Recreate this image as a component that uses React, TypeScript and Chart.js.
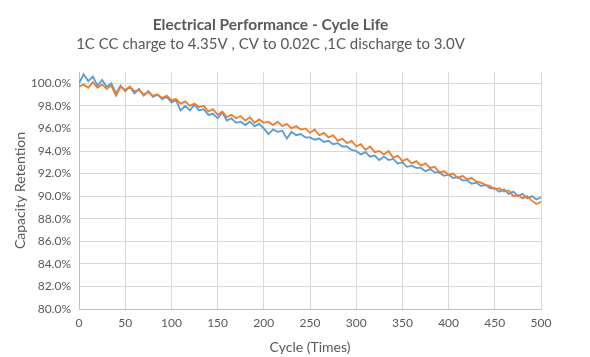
import React, { useEffect, useRef } from "react";
import { Chart, registerables } from "chart.js";

Chart.register(...registerables);

const cycles: number[] = [
  0, 5, 10, 15, 20, 25, 30, 35, 40, 45, 50, 55, 60, 65, 70, 75, 80, 85, 90, 95,
  100, 105, 110, 115, 120, 125, 130, 135, 140, 145, 150, 155, 160, 165, 170, 175, 180, 185, 190, 195,
  200, 205, 210, 215, 220, 225, 230, 235, 240, 245, 250, 255, 260, 265, 270, 275, 280, 285, 290, 295,
  300, 305, 310, 315, 320, 325, 330, 335, 340, 345, 350, 355, 360, 365, 370, 375, 380, 385, 390, 395,
  400, 405, 410, 415, 420, 425, 430, 435, 440, 445, 450, 455, 460, 465, 470, 475, 480, 485, 490, 495, 500,
];

const seriesBlue: number[] = [
  100.0, 100.8, 100.2, 100.6, 99.8, 100.3, 99.7, 100.0, 99.1, 99.8, 99.3, 99.7, 99.1, 99.5, 98.9, 99.3, 98.8, 99.0, 98.6, 98.8,
  98.3, 98.5, 97.6, 98.0, 97.6, 98.1, 97.6, 97.7, 97.2, 97.3, 96.9, 97.4, 96.7, 96.9, 96.5, 96.6, 96.3, 96.6, 96.2, 96.4,
  96.0, 95.5, 95.9, 95.7, 95.8, 95.1, 95.7, 95.4, 95.5, 95.2, 95.2, 95.0, 95.1, 94.8, 94.9, 94.6, 94.7, 94.4, 94.4, 94.1,
  94.0, 93.7, 93.9, 93.5, 93.6, 93.2, 93.5, 93.2, 93.3, 92.9, 93.0, 92.6, 92.7, 92.5, 92.5, 92.2, 92.4, 92.1, 92.1, 91.8,
  91.9, 91.6, 91.7, 91.4, 91.4, 91.1, 91.2, 90.9, 91.0, 90.7, 90.7, 90.4, 90.6, 90.2, 90.4, 90.0, 90.2, 89.8, 90.0, 89.7, 89.9,
];

const seriesOrange: number[] = [
  99.7, 99.9, 99.6, 100.1, 99.6, 99.9, 99.5, 99.8, 98.9, 99.7, 99.4, 99.7, 99.3, 99.4, 99.0, 99.2, 98.9, 99.0, 98.7, 98.9,
  98.5, 98.6, 98.2, 98.4, 98.0, 98.2, 97.9, 98.0, 97.5, 97.7, 97.2, 97.5, 97.0, 97.2, 96.9, 97.1, 96.7, 97.0, 96.5, 96.8,
  96.5, 96.6, 96.3, 96.6, 96.2, 96.4, 96.0, 96.2, 95.9, 96.0, 95.6, 95.9, 95.4, 95.6, 95.2, 95.4, 94.9, 95.1, 94.7, 94.9,
  94.4, 94.6, 94.1, 94.4, 93.9, 94.0, 93.7, 94.0, 93.4, 93.6, 93.1, 93.3, 92.9, 93.1, 92.7, 92.9, 92.5, 92.6, 92.1, 92.2,
  91.9, 92.0, 91.6, 91.8, 91.5, 91.6, 91.3, 91.2, 91.0, 90.9, 90.6, 90.7, 90.4, 90.5, 90.0, 90.1, 89.8, 90.0, 89.6, 89.3, 89.5,
];

const titleText = "Electrical Performance - Cycle Life";
const subtitleText = "1C CC charge to 4.35V , CV to 0.02C ,1C discharge to 3.0V";
const xAxisTitle = "Cycle (Times)";
const yAxisTitle = "Capacity Retention";

const FONT = "Lato, 'Open Sans', sans-serif";
const GRAY = "#595959";

export default function App() {
  const ref = useRef<HTMLCanvasElement | null>(null);

  useEffect(() => {
    if (!ref.current) return;
    const chart = new Chart(ref.current, {
      type: "line",
      data: {
        datasets: [
          {
            label: "Orange",
            data: cycles.map((c, i) => ({ x: c, y: seriesOrange[i] })),
            borderColor: "#ED7D31",
            backgroundColor: "#ED7D31",
            borderWidth: 1.8,
            pointRadius: 0,
            tension: 0,
          },
          {
            label: "Blue",
            data: cycles.map((c, i) => ({ x: c, y: seriesBlue[i] })),
            borderColor: "#5B9BD5",
            backgroundColor: "#5B9BD5",
            borderWidth: 1.8,
            pointRadius: 0,
            tension: 0,
          },
        ],
      },
      options: {
        animation: false,
        responsive: false,
        layout: { padding: { left: 0, right: 49, top: 0, bottom: 0 } },
        plugins: {
          legend: { display: false },
          tooltip: { enabled: false },
          title: {
            display: true,
            text: titleText,
            color: GRAY,
            font: { family: FONT, size: 15.5, weight: "bold", lineHeight: 1.2 },
            padding: { top: 16, bottom: 1 },
          },
          subtitle: {
            display: true,
            text: subtitleText,
            color: GRAY,
            font: { family: FONT, size: 15, weight: "normal", lineHeight: 1.2 },
            padding: { top: 0, bottom: 18.4 },
          },
        },
        scales: {
          x: {
            type: "linear",
            min: 0,
            max: 500,
            ticks: { stepSize: 50, color: GRAY, font: { family: FONT, size: 12 }, padding: 7, maxRotation: 0 },
            grid: { color: "#D9D9D9", drawTicks: false },
            border: { color: "#BFBFBF" },
            title: {
              display: true,
              text: xAxisTitle,
              color: GRAY,
              font: { family: FONT, size: 14 },
              padding: { top: 0, bottom: 1.6 },
            },
            afterFit: (scale: any) => {
              scale.height = 48;
            },
          },
          y: {
            type: "linear",
            min: 80,
            max: 101,
            ticks: {
              stepSize: 2,
              includeBounds: false,
              color: GRAY,
              font: { family: FONT, size: 12 },
              padding: 8,
              callback: (v: any) => Number(v).toFixed(1) + "%",
            },
            grid: { color: "#D9D9D9", drawTicks: false },
            border: { color: "#BFBFBF" },
            title: {
              display: true,
              text: yAxisTitle,
              color: GRAY,
              font: { family: FONT, size: 14 },
              padding: { top: 12, bottom: 0 },
            },
            afterFit: (scale: any) => {
              scale.width = 79;
            },
          },
        },
      },
    });
    return () => chart.destroy();
  }, []);

  return (
    <div style={{ position: "fixed", left: 0, top: 0, width: 590, height: 357, background: "#fff" }}>
      <canvas ref={ref} width={590} height={357} style={{ width: 590, height: 357, display: "block" }} />
    </div>
  );
}
